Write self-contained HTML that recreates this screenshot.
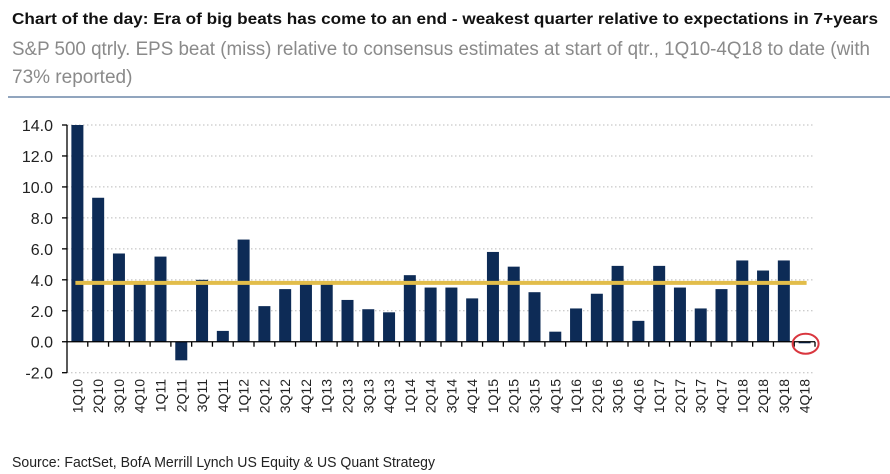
<!DOCTYPE html>
<html><head><meta charset="utf-8"><style>
html,body{margin:0;padding:0;background:#fff;}
svg{display:block;font-family:"Liberation Sans",Arial,sans-serif;}
</style></head><body>
<svg id="c" width="890" height="474" viewBox="0 0 890 474">
<text x="12" y="24" font-size="15.5" font-weight="bold" fill="#111" textLength="866" lengthAdjust="spacingAndGlyphs">Chart of the day: Era of big beats has come to an end - weakest quarter relative to expectations in 7+years</text>
<text x="12" y="55" font-size="19" fill="#8a8a8a" textLength="858" lengthAdjust="spacingAndGlyphs">S&amp;P 500 qtrly. EPS beat (miss) relative to consensus estimates at start of qtr., 1Q10-4Q18 to date (with</text>
<text x="12" y="83" font-size="19" fill="#8a8a8a">73% reported)</text>
<line x1="8" y1="97" x2="890" y2="97" stroke="#6d87a8" stroke-width="1.5"/>
<g id="grid"></g><g id="bars"></g><g id="axes"></g>
<text x="12" y="467" font-size="14.5" fill="#222" textLength="423" lengthAdjust="spacingAndGlyphs">Source: FactSet, BofA Merrill Lynch US Equity &amp; US Quant Strategy</text>
</svg>
<script>
const categories=["1Q10","2Q10","3Q10","4Q10","1Q11","2Q11","3Q11","4Q11","1Q12","2Q12","3Q12","4Q12","1Q13","2Q13","3Q13","4Q13","1Q14","2Q14","3Q14","4Q14","1Q15","2Q15","3Q15","4Q15","1Q16","2Q16","3Q16","4Q16","1Q17","2Q17","3Q17","4Q17","1Q18","2Q18","3Q18","4Q18"];
const beats=[14.0,9.3,5.7,3.8,5.5,-1.2,4.0,0.7,6.6,2.3,3.4,3.8,3.8,2.7,2.1,1.9,4.3,3.5,3.5,2.8,5.8,4.85,3.2,0.65,2.15,3.1,4.9,1.35,4.9,3.5,2.15,3.4,5.25,4.6,5.25,-0.1];
const average=[3.8];
const yTicks=[-2,0,2,4,6,8,10,12,14];
const yLabels=["-2.0","0.0","2.0","4.0","6.0","8.0","10.0","12.0","14.0"];
const NS="http://www.w3.org/2000/svg";
const X0=67,X1=815,yTop=125,yBot=372.7,vMin=-2,vMax=14;
const band=(X1-X0)/categories.length;
function y(v){return yBot-(v-vMin)/(vMax-vMin)*(yBot-yTop);}
function xc(i){return X0+band*(i+0.5);}
function mk(tag,attrs,parent){const e=document.createElementNS(NS,tag);for(const k in attrs)e.setAttribute(k,attrs[k]);parent.appendChild(e);return e;}
const grid=document.getElementById('grid'),bars=document.getElementById('bars'),axes=document.getElementById('axes');
yTicks.forEach((t,i)=>{
  if(t!==0){const g=mk('line',{x1:X0,x2:X1,y1:y(t),y2:y(t),stroke:'#bbb','stroke-dasharray':'1.5 2.5','stroke-width':1},grid);
  
  }
  const tk=mk('line',{x1:X0-5,x2:X0,y1:y(t),y2:y(t),stroke:'#000','stroke-width':1.3},axes);
  
  
  const lb=mk('text',{x:X0-14,y:y(t)+6,'text-anchor':'end','font-size':16,fill:'#222'},axes);
  lb.textContent=yLabels[i];
  
  
});
beats.forEach((v,i)=>{
  const bw=12,top=Math.min(y(v),y(0)),h=Math.abs(y(v)-y(0));
  const r=mk('rect',{x:xc(i)-bw/2,y:top,width:bw,height:Math.max(h,1),fill:'#0d2b56'},bars);
  
  
});
const av=mk('line',{x1:xc(0)-2,x2:xc(categories.length-1)+2,y1:y(average[0]),y2:y(average[0]),stroke:'#e2bd4a','stroke-width':4},bars);


const yax=mk('line',{x1:X0,x2:X0,y1:yTop,y2:yBot,stroke:'#000','stroke-width':1.3},axes);


const xax=mk('line',{x1:X0,x2:X1,y1:y(0),y2:y(0),stroke:'#000','stroke-width':1.3},axes);


categories.forEach((c,i)=>{
  const tx=X0+band*(i+1);
  const tk=mk('line',{x1:tx,x2:tx,y1:y(0),y2:y(0)+5,stroke:'#000','stroke-width':1.3},axes);
  
  
  const lb=mk('text',{x:0,y:0,'text-anchor':'end','font-size':14,fill:'#222',transform:`translate(${xc(i)+5},379) rotate(-90)`},axes);
  lb.textContent=c;
  
  
});
const last=categories.length-1;
const ring=mk('ellipse',{cx:xc(last)+1,cy:y(0)+2,rx:13,ry:10,fill:'none',stroke:'#d9363e','stroke-width':2},axes);


</script>
</body></html>
